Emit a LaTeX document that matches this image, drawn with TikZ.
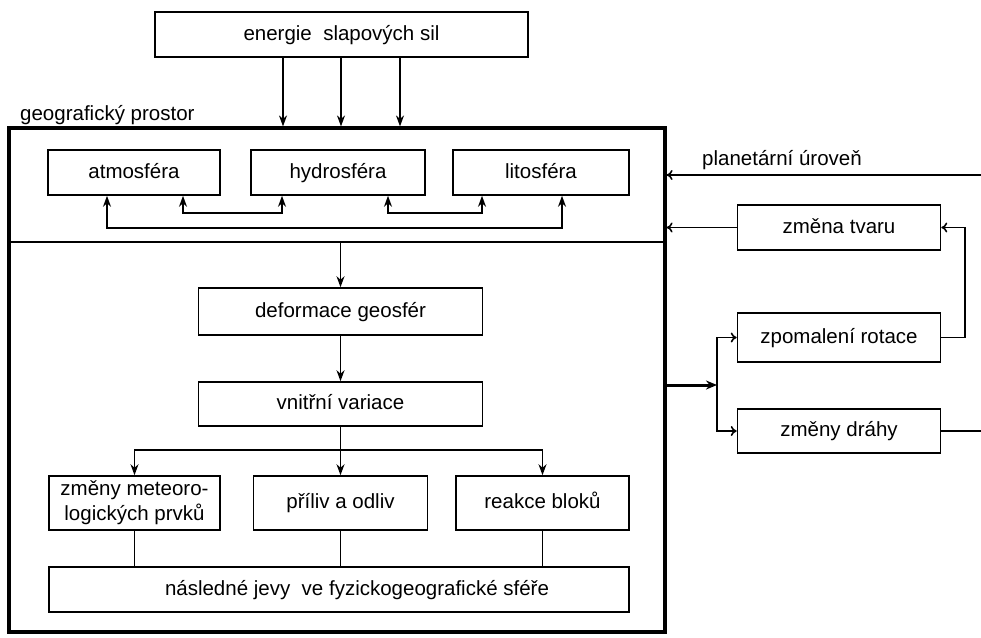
\documentclass[tikz,border=0pt]{standalone}
\usepackage{fontspec}
\setmainfont{Liberation Sans}
\usetikzlibrary{arrows.meta}
\begin{document}
\begin{tikzpicture}[x=1pt,y=-1pt,
  box/.style={draw, line width=1.6pt, minimum height=45pt, inner sep=2pt, text height=15pt, text depth=4pt, font=\fontsize{20.5}{25}\selectfont},
  lbl/.style={font=\fontsize{20.5}{25}\selectfont, inner sep=0pt},
  ln/.style={line width=1.6pt},
  arr/.style={line width=1.6pt, -{Stealth[length=11pt,width=8pt]}},
  arrtwo/.style={line width=1.6pt, {Stealth[length=11pt,width=8pt]}-{Stealth[length=11pt,width=8pt]}},
  oarr/.style={line width=1.6pt, -{To[length=6pt,width=10pt]}},
]
\useasboundingbox (0,0) rectangle (981,637);

% top source
\node[box, minimum width=373pt] (energie) at (341.5,34.5) {energie\ \ slapových sil};
\node[lbl, anchor=base west] (geo) at (20,120) {geografický prostor};

% outer frame
\node[draw, line width=3.2pt, minimum width=656pt, minimum height=504pt, inner sep=0pt] (outer) at (337,380) {};

\coordinate (a1) at (283,0);
\coordinate (a2) at (341,0);
\coordinate (a3) at (400,0);
\draw[arr] (energie.south -| a1) -- (outer.north -| a1);
\draw[arr] (energie.south -| a2) -- (outer.north -| a2);
\draw[arr] (energie.south -| a3) -- (outer.north -| a3);

% geospheres
\node[box, minimum width=172pt] (atmo) at (134,172.5) {atmosféra};
\node[box, minimum width=174pt] (hydro) at (338,172.5) {hydrosféra};
\node[box, minimum width=176pt] (lito) at (541,172.5) {litosféra};

\coordinate (p1) at (107,228);
\coordinate (p2) at (562,228);
\coordinate (q1) at (183,213);
\coordinate (q2) at (282,213);
\coordinate (q3) at (388,213);
\coordinate (q4) at (482,213);
\draw[arrtwo] (atmo.south -| p1) -- (p1) -- (p2) -- (lito.south -| p2);
\draw[arrtwo] (atmo.south -| q1) -- (q1) -- (q2) -- (hydro.south -| q2);
\draw[arrtwo] (hydro.south -| q3) -- (q3) -- (q4) -- (lito.south -| q4);

% divider
\coordinate (dl) at (9,242);
\draw[ln] (outer.west |- dl) -- (outer.east |- dl);

% inner chain
\node[box, minimum width=284pt, minimum height=47pt] (deform) at (340.5,311.5) {deformace geosfér};
\node[box, minimum width=284pt, minimum height=44pt] (vnitr) at (340.5,404) {vnitřní variace};
\draw[arr] (deform.north |- dl) -- (deform.north);
\draw[arr] (deform) -- (vnitr);

\node[box, minimum width=171pt, minimum height=54pt, align=center, text height=, text depth=] (meteo) at (134.5,503) {změny meteoro-\\logických prvků};
\node[box, minimum width=174pt, minimum height=54pt] (priliv) at (340.5,503) {příliv a odliv};
\node[box, minimum width=173pt, minimum height=54pt] (reakce) at (542.5,503) {reakce bloků};
\node[box, minimum width=580pt, minimum height=45pt] (nasl) at (339,589.5) {\hspace*{36pt}následné jevy\ \ ve fyzickogeografické sféře};

\coordinate (h) at (340.5,450);
\draw[arr] (vnitr.south) -- (priliv.north);
\draw[arr] (h) -| (meteo.north);
\draw[arr] (h) -| (reakce.north);
\draw[ln] (meteo) -- (nasl.north -| meteo);
\draw[ln] (priliv) -- (nasl.north -| priliv);
\draw[ln] (reakce) -- (nasl.north -| reakce);

% planetary level
\node[lbl, anchor=base west] (plan) at (702,165) {planetární úroveň};
\coordinate (pe) at (981,175);
\draw[oarr] (pe) -- (outer.east |- pe);

\node[box, minimum width=203pt, minimum height=45pt] (tvar) at (839,227.5) {změna tvaru};
\node[box, minimum width=203pt, minimum height=49pt] (zpom) at (839,337.5) {zpomalení rotace};
\node[box, minimum width=203pt, minimum height=44pt] (drahy) at (839,431) {změny dráhy};

\draw[oarr] (tvar.west) -- (outer.east |- tvar.west);
\coordinate (r) at (965,0);
\draw[oarr] (zpom.east) -- (zpom.east -| r) |- (tvar.east);
\coordinate (de) at (981,431);
\draw[ln] (drahy.east) -- (drahy.east -| de);

\coordinate (s) at (717,385);
\draw[line width=3pt, -{Stealth[length=11pt,width=9pt]}] (outer.east |- s) -- (s);
\draw[oarr] (s) -- (s |- zpom.west) -- (zpom.west);
\draw[oarr] (s) -- (s |- drahy.west) -- (drahy.west);
\end{tikzpicture}
\end{document}
